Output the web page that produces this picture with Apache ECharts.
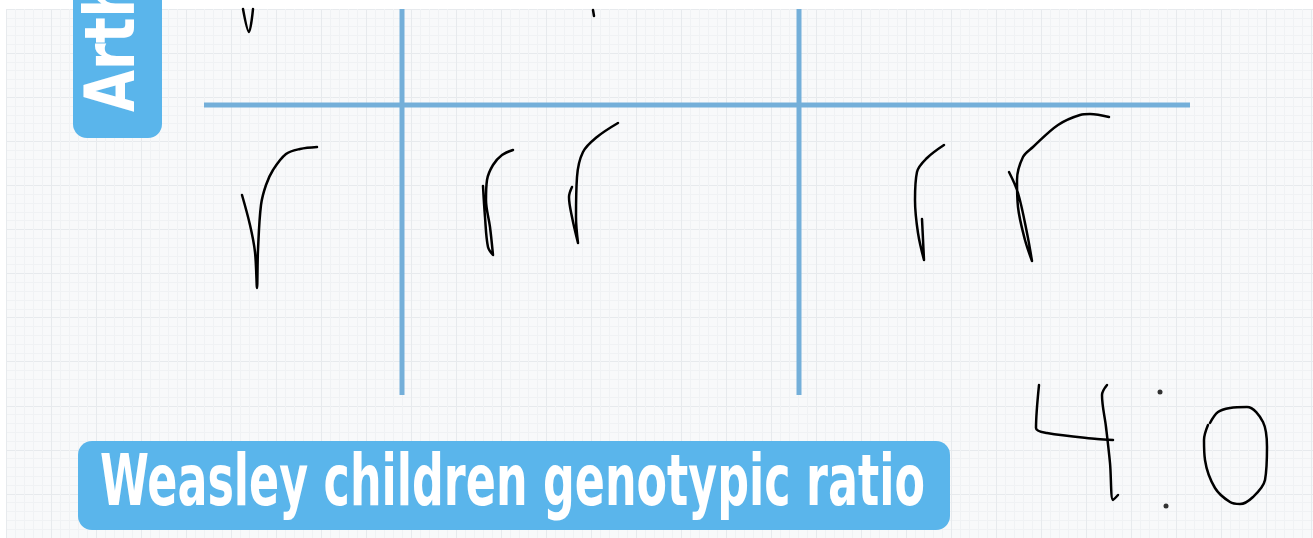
<!DOCTYPE html>
<html>
<head>
<meta charset="utf-8">
<script src="https://cdn.jsdelivr.net/npm/echarts@6/dist/echarts.min.js"></script>
<style>
  html, body { margin: 0; padding: 0; background: #fff; }
  #chart { width: 1313px; height: 538px; }
</style>
</head>
<body>
<div id="chart"></div>
<script>
// Punnett square rules (page pixel units)
const squareV1 = [[402, 9], [402, 395]]
const squareV2 = [[799, 9], [799, 395]]
const squareH = [[204, 105], [1190, 105]]

// handwritten strokes
const strokeTopV = [[243, 9], [249, 32], [253, 9]]
const strokeTopTick = [[593, 10], [594, 16]]
const strokeCell1 = [[242, 195], [250, 225], [255, 252], [257, 288], [258, 250], [261, 205], [266, 185], [273, 170], [286, 154], [300, 149], [317, 147]]
const strokeCell2a = [[483, 186], [485, 217], [488, 247], [493, 255], [490, 227], [486, 200], [487, 180], [493, 165], [502, 155], [513, 150]]
const strokeCell2b = [[572, 187], [569, 197], [572, 217], [578, 243], [576, 217], [577, 177], [583, 152], [597, 137], [618, 123]]
const strokeCell3a = [[922, 219], [924, 260], [918, 233], [915, 200], [917, 172], [927, 158], [944, 145]]
const strokeCell3b = [[1009, 172], [1018, 193], [1027, 233], [1032, 261], [1025, 240], [1018, 207], [1017, 180], [1023, 157], [1033, 147], [1058, 125], [1080, 115], [1090, 114], [1109, 117]]
const stroke4a = [[1039, 385], [1036, 428], [1047, 433], [1097, 439], [1113, 440]]
const stroke4b = [[1107, 385], [1102, 395], [1106, 427], [1110, 463], [1113, 500], [1118, 495]]
const colonDots = [[1160, 392], [1166, 506]]
const stroke0 = [[1210, 423], [1218, 412], [1230, 408], [1247, 407], [1263, 422], [1267, 447], [1265, 480], [1253, 497], [1240, 504], [1230, 502], [1215, 488], [1205, 460], [1204, 440], [1208, 425]]

const titleText = 'Weasley children genotypic ratio'
const sideText = 'Arthur'

const inkStrokes = [strokeTopV, strokeTopTick, strokeCell1, strokeCell2a, strokeCell2b,
  strokeCell3a, strokeCell3b, stroke4a, stroke4b, stroke0]
const rules = [squareV1, squareV2, squareH]

const labelBlue = '#5ab5eb'
const titleFont = 'bold 72px "DejaVu Sans Condensed"'

// squeeze the title into the box width
const ctx = document.createElement('canvas').getContext('2d')
ctx.font = titleFont
const titleScale = 825 / ctx.measureText(titleText).width

const chart = echarts.init(document.getElementById('chart'))

const series = []
rules.forEach(r => series.push({
  type: 'line', xAxisIndex: 1, yAxisIndex: 1, data: r, showSymbol: false,
  silent: true, z: 3,
  lineStyle: { color: '#74afd9', width: 5, cap: 'butt' }
}))
inkStrokes.forEach(s => series.push({
  type: 'line', xAxisIndex: 1, yAxisIndex: 1, data: s, showSymbol: false,
  smooth: 0.35, silent: true, z: 5,
  lineStyle: { color: '#000000', width: 2.5, cap: 'round', join: 'round' }
}))
series.push({
  type: 'scatter', xAxisIndex: 1, yAxisIndex: 1, data: colonDots,
  symbolSize: 5, itemStyle: { color: '#000000' }, silent: true, z: 5
})

const hidden = { axisLine: { show: false }, axisTick: { show: false }, axisLabel: { show: false } }

chart.setOption({
  animation: false,
  backgroundColor: '#ffffff',
  grid: [
    // graph paper
    { left: 6, top: 9, right: 0, bottom: 0, show: true, backgroundColor: '#f8f9fa', borderWidth: 0 },
    // drawing layer, page pixels
    { left: 0, top: 0, right: 0, bottom: 0 }
  ],
  xAxis: [
    { type: 'value', gridIndex: 0, min: 0, max: 1307, interval: 45, ...hidden,
      splitLine: { show: true, lineStyle: { color: '#e7eaed', width: 1 } },
      minorTick: { show: false, splitNumber: 5 },
      minorSplitLine: { show: true, lineStyle: { color: '#f0f2f4', width: 1 } } },
    { type: 'value', gridIndex: 1, min: 0, max: 1313, ...hidden, splitLine: { show: false } }
  ],
  yAxis: [
    { type: 'value', gridIndex: 0, min: 0, max: 540, interval: 45, inverse: true, ...hidden,
      splitLine: { show: true, lineStyle: { color: '#e7eaed', width: 1 } },
      minorTick: { show: false, splitNumber: 5 },
      minorSplitLine: { show: true, lineStyle: { color: '#f0f2f4', width: 1 } } },
    { type: 'value', gridIndex: 1, min: 0, max: 538, inverse: true, ...hidden, splitLine: { show: false } }
  ],
  graphic: [
    { type: 'rect', z: 10, shape: { x: 73, y: -30, width: 89, height: 168, r: 14 },
      style: { fill: labelBlue } },
    { type: 'text', z: 11, x: 116, y: 112, rotation: Math.PI / 2, scaleX: 0.86,
      style: { text: sideText, font: 'bold 70px "DejaVu Sans Condensed"', fill: '#ffffff',
        align: 'left', verticalAlign: 'middle' } },
    { type: 'rect', z: 10, shape: { x: 78, y: 441, width: 872, height: 89, r: 14 },
      style: { fill: labelBlue } },
    { type: 'text', z: 11, x: 100, y: 486, scaleX: titleScale,
      style: { text: titleText, font: titleFont, fill: '#ffffff',
        align: 'left', verticalAlign: 'middle' } }
  ],
  series
})
</script>
</body>
</html>
